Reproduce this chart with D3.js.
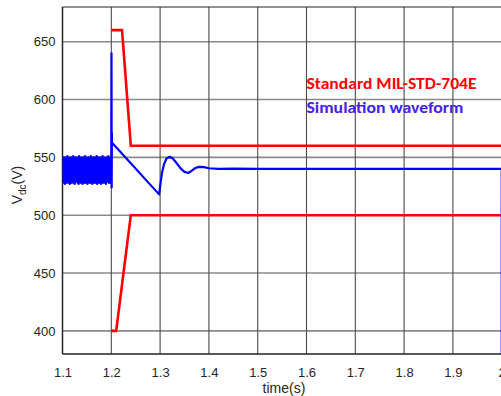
<!DOCTYPE html>
<html><head><meta charset="utf-8">
<script src="https://cdn.jsdelivr.net/npm/d3@7"></script>
<style>body{margin:0;background:#fff}svg{display:block}</style>
</head><body>
<svg id="c" width="501" height="396"></svg>
<script>
// ---- data ----
const xTicks = [1.1,1.2,1.3,1.4,1.5,1.6,1.7,1.8,1.9,2.0];
const xTickLabels = ["1.1","1.2","1.3","1.4","1.5","1.6","1.7","1.8","1.9","2"];
const yTicks = [400,450,500,550,600,650];
const upperT = [1.2,1.222,1.24,2.0];
const upperV = [660,660,560,560];
const lowerT = [1.2,1.21,1.24,2.0];
const lowerV = [400,400,500,500];
// steady-state ripple before the load step (sampled every 1 ms from 1.1 s)
const rippleStart = 1.1, rippleStep = 0.001;
const rippleV = [549,528,550,529,548,527,550,530,549,528,551,529,548,528,550,527,549,530,550,528,
 548,529,551,528,549,527,550,530,548,529,550,528,549,527,551,529,548,528,550,530,
 549,527,550,529,548,528,551,528,549,530,550,527,548,529,550,528,549,528,551,530,
 548,527,550,529,549,528,550,528,548,530,551,527,549,529,550,528,548,529,550,527,
 549,530,551,528,548,529,550,528,549,527,550,530,548,529,551,528,549,528,550,529];
const transT = [1.2,1.2004,1.2008,1.2012,1.2016,1.203,1.298,1.301,1.304,1.308,1.313,1.32,1.326,1.333,1.342,1.35,1.358,1.365,1.372,1.38,1.39,1.4,1.42,1.45,1.5,2.0,2.0];
const transV = [540,640,524,571,560,562,518,528,537,544,549,550.5,549,545.5,540.5,537.5,536.5,538.5,540.8,541.8,541.5,540.6,540,540.2,540,540,300];
const legendLabels = ["Standard MIL-STD-704E","Simulation waveform"];

// ---- chart ----
const svg = d3.select("#c");
const L=62.5, R=501.7, T=7, B=354;
const x = d3.scaleLinear().domain([1.1,2.0]).range([L,R]);
const y = d3.scaleLinear().domain([380,680]).range([B,T]);

svg.append("defs").append("clipPath").attr("id","clip")
  .append("rect").attr("x",L).attr("y",T).attr("width",R-L).attr("height",B-T);

// grid
svg.append("g").selectAll("line").data(yTicks).join("line")
  .attr("x1",L).attr("x2",R).attr("y1",d=>y(d)).attr("y2",d=>y(d))
  .attr("stroke","#8a8a8a").attr("stroke-width",1.6);
svg.append("g").selectAll("line").data(xTicks).join("line")
  .attr("x1",d=>x(d)).attr("x2",d=>x(d)).attr("y1",T).attr("y2",B)
  .attr("stroke","#4a4a4a").attr("stroke-width",1.1);

// box
svg.append("line").attr("x1",L).attr("x2",R).attr("y1",T).attr("y2",T).attr("stroke","#222").attr("stroke-width",1.2);
svg.append("line").attr("x1",L).attr("x2",L).attr("y1",T).attr("y2",B).attr("stroke","#222").attr("stroke-width",1.4);
svg.append("line").attr("x1",L).attr("x2",R).attr("y1",B).attr("y2",B).attr("stroke","#222").attr("stroke-width",1.4);

// axes labels
const xAxis = d3.axisBottom(x).tickValues(xTicks).tickFormat((d,i)=>xTickLabels[i]).tickSize(0).tickPadding(14);
const gx = svg.append("g").attr("transform",`translate(0,${B})`).call(xAxis);
gx.select(".domain").remove();
gx.selectAll("text").attr("font-family","Liberation Sans, Arial, sans-serif").attr("font-size",13).attr("fill","#262626");

const yAxis = d3.axisLeft(y).tickValues(yTicks).tickSize(0).tickPadding(7);
const gy = svg.append("g").attr("transform",`translate(${L},0)`).call(yAxis);
gy.select(".domain").remove();
gy.selectAll("text").attr("font-family","Liberation Sans, Arial, sans-serif").attr("font-size",13).attr("fill","#262626");

// lines
const g = svg.append("g").attr("clip-path","url(#clip)");
const line = d3.line().x(d=>x(d[0])).y(d=>y(d[1]));
g.append("path").datum(upperT.map((t,i)=>[t,upperV[i]])).attr("d",line)
  .attr("fill","none").attr("stroke","#ff0000").attr("stroke-width",2.6).attr("stroke-linejoin","miter");
g.append("path").datum(lowerT.map((t,i)=>[t,lowerV[i]])).attr("d",line)
  .attr("fill","none").attr("stroke","#ff0000").attr("stroke-width",2.6);
const blue = rippleV.map((v,i)=>[rippleStart+i*rippleStep,v]).concat(transT.map((t,i)=>[t,transV[i]]));
g.append("path").datum(blue).attr("d",line)
  .attr("fill","none").attr("stroke","#0000ff").attr("stroke-width",2.2).attr("stroke-linejoin","round");

// axis titles
svg.append("text").attr("x",284).attr("y",393).attr("text-anchor","middle")
  .attr("font-family","Liberation Sans, Arial, sans-serif").attr("font-size",14).attr("fill","#262626").text("time(s)");
const yl = svg.append("text").attr("transform","translate(22,185) rotate(-90)").attr("text-anchor","middle")
  .attr("font-family","Liberation Sans, Arial, sans-serif").attr("font-size",14).attr("fill","#262626");
yl.append("tspan").text("V");
yl.append("tspan").attr("dy",4).attr("font-size",10).text("dc");
yl.append("tspan").attr("dy",-4).text("(V)");

// legend text
svg.append("text").attr("x",306.5).attr("y",88.5).attr("font-family","Carlito, Open Sans, sans-serif")
  .attr("font-weight","bold").attr("font-size",16).attr("fill","#ff0000")
  .attr("textLength",170).attr("lengthAdjust","spacingAndGlyphs").text(legendLabels[0]);
svg.append("text").attr("x",306.5).attr("y",112.5).attr("font-family","Carlito, Open Sans, sans-serif")
  .attr("font-weight","bold").attr("font-size",16).attr("fill","#4422ee")
  .attr("textLength",157).attr("lengthAdjust","spacingAndGlyphs").text(legendLabels[1]);
</script>
</body></html>
